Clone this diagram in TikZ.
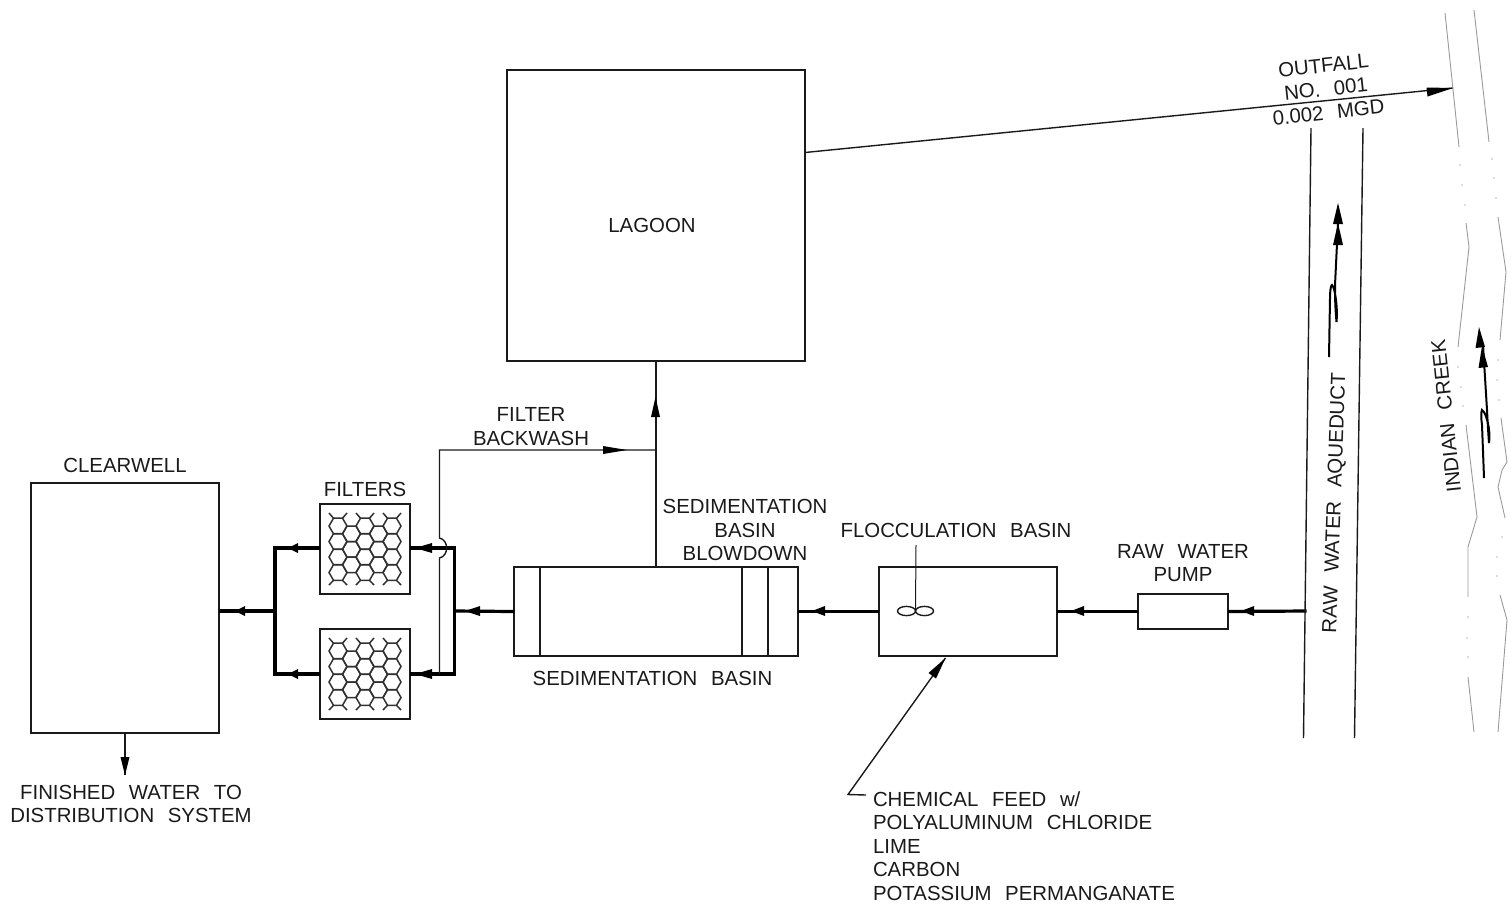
\documentclass[tikz,border=0pt]{standalone}
\usepackage{fontspec}
\setmainfont[WordSpace=2.4]{Liberation Sans}
\usetikzlibrary{arrows.meta}
\definecolor{ink}{HTML}{1A1A1A}
\definecolor{bank}{HTML}{9A9A9A}
\tikzset{
  x=1pt,y=-1pt,
  every node/.style={inner sep=0pt,outer sep=0pt},
  box/.style={draw=ink,line width=1.6pt,rectangle,anchor=north west},
  lbl/.style={text=ink,font=\fontsize{20.4}{23.5}\selectfont,align=center},
  lbll/.style={lbl,align=left,anchor=west},
  thin line/.style={draw=ink,line width=1.4pt},
  thick line/.style={draw=black,line width=3.2pt},
  zigzag line/.style={draw=black,line width=2pt},
  head/.style={fill=black,draw=none},
  riverbank/.style={draw=bank,line width=0.9pt},
  riverdot/.style={fill=bank!45,draw=none},
  hexline/.style={draw=ink!90,line width=1.5pt},
}
\newcommand{\hexcell}[2]{%
  \draw[hexline] (#1-9,#2) -- (#1-4.5,#2-7.8) -- (#1+4.5,#2-7.8) -- (#1+9,#2) -- (#1+4.5,#2+7.8) -- (#1-4.5,#2+7.8) -- cycle;}
\newcommand{\honeycomb}[2]{%
  \begin{scope}[shift={(#1,#2)}]
  \foreach \cx in {18,45,72}{%
    \foreach \cy in {22,37.5,53,68.5}{\hexcell{\cx}{\cy}}
    \draw[hexline] (\cx-4.5,14.2) -- (\cx-9,9) (\cx+4.5,14.2) -- (\cx+9,9);
    \draw[hexline] (\cx-4.5,76.3) -- (\cx-9,81) (\cx+4.5,76.3) -- (\cx+9,81);
  }
  \foreach \cx in {31.5,58.5}{\foreach \cy in {29.8,45.3,60.8}{\hexcell{\cx}{\cy}}}
  \end{scope}}
% left-pointing head: tip x, base x, y
\newcommand{\headleft}[3]{\fill[head] (#1,#3) -- (#2,#3-5) -- (#2,#3+5) -- cycle;}
\begin{document}
\begin{tikzpicture}
\useasboundingbox (0,0) rectangle (1512,906);
% boxes
\node[box,minimum width=298pt,minimum height=291pt] (lagoon) at (507,70) {};
\node[box,minimum width=188pt,minimum height=250pt] (clearwell) at (31,483) {};
\node[box,minimum width=90pt,minimum height=90pt] (filterA) at (320,504) {};
\node[box,minimum width=90pt,minimum height=90pt] (filterB) at (320,629) {};
\node[box,minimum width=284pt,minimum height=89pt] (sed) at (514,567) {};
\node[box,minimum width=178pt,minimum height=89pt] (floc) at (879,567) {};
\node[box,minimum width=90pt,minimum height=35pt] (pump) at (1138,594) {};
\honeycomb{320}{504}
\honeycomb{320}{629}
% sedimentation baffles
\draw[thin line,line width=1.7pt] (540,567) -- (540,656) (742,567) -- (742,656) (768,567) -- (768,656);
% impeller
\coordinate (shaftTop) at (916,545);
\coordinate (shaftEnd) at (915.5,611);
\draw[thin line,line width=1pt] (shaftTop) -- (shaftEnd);
\draw[thin line] (906.5,611) ellipse [x radius=9,y radius=4.6];
\draw[thin line] (924.5,611) ellipse [x radius=9,y radius=4.6];
% coordinates
\coordinate (aqIn) at (1306.5,611);
\coordinate (busR) at (454.5,611);
\coordinate (busL) at (275,611);
\coordinate (busRa) at (454.5,548);
\coordinate (busRb) at (454.5,674);
\coordinate (busLa) at (275,548);
\coordinate (busLb) at (275,674);
\coordinate (joint) at (655,450);
\coordinate (bwBase) at (439.5,674);
\coordinate (bwLow) at (439.5,558);
\coordinate (bwHigh) at (439.5,538);
\coordinate (bwTop) at (439.5,450);
\coordinate (fwEnd) at (125,775);
\coordinate (outEnd) at (1453,88);
\coordinate (feedKnee) at (848,794.5);
\coordinate (feedEnd) at (866,795);
% process flow
\draw[thick line] (aqIn) -- (pump.east);
\headleft{1241}{1254}{611}
\draw[thick line] (pump.west) -- (floc.east);
\headleft{1071}{1084}{611}
\draw[thick line] (floc.west) -- (sed.east);
\headleft{812}{825}{611}
\draw[thick line] (sed.west) -- (busR);
\headleft{465}{480}{611}
\draw[thick line,line cap=rect] (busRa) -- (busRb);
\draw[thick line] (busRa) -- (410,548);
\draw[thick line] (busRb) -- (410,674);
\headleft{415}{432}{548}
\headleft{415}{432}{674}
\draw[thick line] (320,548) -- (busLa);
\draw[thick line] (320,674) -- (busLb);
\headleft{288}{298}{548}
\headleft{288}{298}{674}
\draw[thick line,line cap=rect] (busLa) -- (busLb);
\draw[thick line] (busL) -- (clearwell.east |- busL);
\headleft{235}{245}{611}
% backwash
\draw[thin line] (bwBase) -- (bwLow) .. controls (449,556) and (449,540) .. (bwHigh) -- (bwTop) -- (joint);
\fill[head] (627,450) -- (603,446) -- (603,454) -- cycle;
\draw[thin line] (sed.north -| lagoon.south) -- (lagoon.south);
\fill[head] (655.5,397) -- (651,417) -- (660,417) -- cycle;
% outfall, finished water, feed
\draw[thin line] (805,152.5) -- (outEnd);
\fill[head] (1453,88) -- (1426.5,87.5) -- (1427.5,96.5) -- cycle;
\draw[thin line] (clearwell.south) -- (fwEnd);
\fill[head] (125,775) -- (120.5,757) -- (129.5,757) -- cycle;
\draw[thin line] (feedEnd) -- (feedKnee) -- (945.5,658);
\fill[head] (945.5,658) -- (928.5,673) -- (936,678.5) -- cycle;
% aqueduct
\draw[thin line] (1311,128) -- (1303.5,738);
\draw[thin line] (1363,128) -- (1354.5,738);
% flow arrows
\draw[zigzag line] (1329,357) -- (1330,298) .. controls (1330,290) and (1331,285) .. (1332,285) .. controls (1335,287) and (1338,310) .. (1336.5,322) .. controls (1335,305) and (1335,295) .. (1335,285) -- (1338,223);
\fill[head] (1338,203) -- (1343,224) -- (1333,224) -- cycle;
\fill[head] (1338,223) -- (1343,245) -- (1333,245) -- cycle;
\draw[zigzag line] (1484,478) -- (1482,425) .. controls (1481,418) and (1481,412) .. (1482,410) .. controls (1486,412) and (1491,430) .. (1489,443) .. controls (1488,430) and (1487.5,420) .. (1487,410) -- (1483,345);
\fill[head] (1479,327) -- (1485,347) -- (1475.5,348) -- cycle;
\fill[head] (1482,346) -- (1488,367) -- (1478.5,368) -- cycle;
% creek banks
\draw[riverbank] (1445,13) -- (1459,147);
\draw[riverbank] (1466,223) -- (1469,247) -- (1458,347);
\draw[riverbank] (1466,425) -- (1477,517) -- (1468,547) -- (1468,597);
\draw[riverbank] (1468,677) -- (1474,732);
\draw[riverbank] (1474,10) -- (1489,142);
\draw[riverbank] (1498,217) -- (1506,272) -- (1500,340);
\draw[riverbank] (1501,418) -- (1507,462) -- (1502,470) -- (1498,487) -- (1505,518);
\draw[riverbank] (1500,595) -- (1507,620) -- (1498,732);
\foreach \px/\py in {1460/165,1462/185,1465/205,1492/159,1494/178,1496/198,1458/367,1461/387,1463/406,1498/360,1497/380,1499/400,1502/537,1497/557,1497/576,1468/617,1467/638,1468/657}
  \fill[riverdot] (\px,\py) circle (1.2);
% labels
\node[lbl] (tLagoon) at (652,225) {LAGOON};
\node[lbl] (tClear) at (125,465) {CLEARWELL};
\node[lbl] (tFilters) at (365,489) {FILTERS};
\node[lbl] (tBack) at (531,426.5) {FILTER\\BACKWASH};
\node[lbl] (tBlow) at (745,530) {SEDIMENTATION\\BASIN\\BLOWDOWN};
\node[lbl] (tFloc) at (956,530) {FLOCCULATION BASIN};
\node[lbl] (tPump) at (1183,563) {RAW WATER\\PUMP};
\node[lbl] (tSed) at (652.5,678) {SEDIMENTATION BASIN};
\node[lbl] (tFin) at (131,804) {FINISHED WATER TO\\DISTRIBUTION SYSTEM};
\node[lbll] (tChem) at (873,846) {CHEMICAL FEED w/\\POLYALUMINUM CHLORIDE\\LIME\\CARBON\\POTASSIUM PERMANGANATE};
\node[lbl,rotate=88] (tAq) at (1335.5,503) {RAW WATER AQUEDUCT};
\node[lbl,rotate=96] (tCreek) at (1446,416) {INDIAN CREEK};
\node[lbl,rotate=6.2] (tOut) at (1326,89) {OUTFALL\\NO. 001\\0.002 MGD};
\end{tikzpicture}
\end{document}
